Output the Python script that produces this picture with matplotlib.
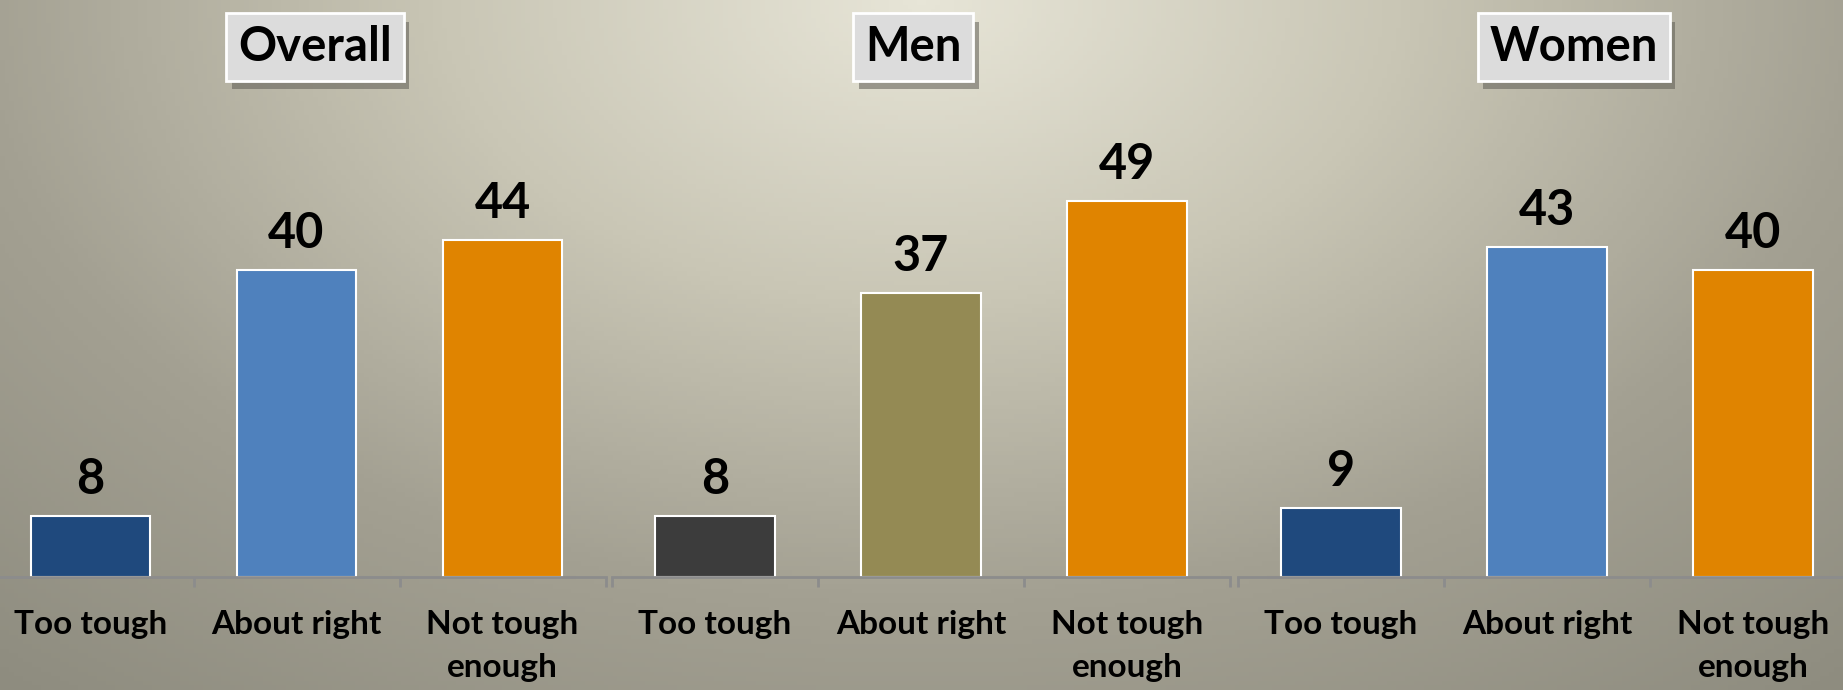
import numpy as np
import matplotlib
matplotlib.use("Agg")
import matplotlib.pyplot as plt
import matplotlib.patheffects as pe
from matplotlib.colors import LinearSegmentedColormap

plt.rcParams['font.family'] = ['Lato', 'DejaVu Sans']
plt.rcParams['font.weight'] = 'bold'

# data
categories = ['Too tough', 'About right', 'Not tough\nenough']
groups = ['Overall', 'Men', 'Women']
overall = [8, 40, 44]
men = [8, 37, 49]
women = [9, 43, 40]
values = [overall, men, women]
colors = [
    ['#1f497d', '#4f81bd', '#e08400'],
    ['#3c3c3c', '#948a54', '#e08400'],
    ['#1f497d', '#4f81bd', '#e08400'],
]

W, H = 1843, 690
fig = plt.figure(figsize=(W / 100, H / 100), dpi=100)

# background: soft radial gradient, light at top centre
bg = fig.add_axes([0, 0, 1, 1])
xx, yy = np.meshgrid(np.linspace(0, 1, 400), np.linspace(0, 1, 150))
d = np.sqrt(((xx - 0.5) / 0.62) ** 2 + (yy / 1.05) ** 2)
cmap = LinearSegmentedColormap.from_list('bg', ['#e7e5d7', '#c9c6b5', '#a3a092', '#8e8c7f'])
bg.imshow(d, cmap=cmap, vmin=0, vmax=1.25, aspect='auto', extent=[0, 1, 0, 1], origin='upper')
bg.set_axis_off()

# panel positions (figure fraction)
lefts = [-12.5, 612, 1238]
pw = 618
base = (H - 577) / H
ymax = 60
ah = ymax * 7.67 / H

title_x = [268 * 1.1754, 777 * 1.1754, 1339 * 1.1754]
title_y = 40 * 1.1754

shadow = [pe.SimplePatchShadow(offset=(4, -6), shadow_rgbFace='#5f5d55', alpha=0.55), pe.Normal()]

x = np.arange(3)
for i in range(3):
    ax = fig.add_axes([lefts[i] / W, base, pw / W, ah])
    ax.patch.set_alpha(0)
    ax.bar(x, values[i], width=0.58, color=colors[i], edgecolor='white', linewidth=1.5)
    for xi, v in zip(x, values[i]):
        ax.annotate(str(v), (xi, v), xytext=(0, 10), textcoords='offset points',
                    ha='center', va='bottom', fontsize=35, fontweight='bold')
    ax.set_xlim(-0.5, 2.5)
    ax.set_ylim(0, ymax)
    for s in ['top', 'left', 'right']:
        ax.spines[s].set_visible(False)
    ax.spines['bottom'].set_color('#8c8c8c')
    ax.spines['bottom'].set_linewidth(2)
    ax.set_yticks([])
    ax.set_xticks(x)
    ax.set_xticklabels(categories, fontsize=24, fontweight='bold', linespacing=1.55)
    ax.tick_params(axis='x', which='major', length=0, pad=24)
    ax.set_xticks([-0.5, 0.5, 1.5, 2.5], minor=True)
    ax.tick_params(axis='x', which='minor', length=7, width=2, color='#8c8c8c')

    # title box with drop shadow
    tx, ty = title_x[i] / W, 1 - title_y / H
    t = fig.text(tx, ty, groups[i], ha='center', va='center', fontsize=34, fontweight='bold',
                 bbox=dict(boxstyle='square,pad=0.25', facecolor='#dcdcdc', edgecolor='white', linewidth=2))
    t.get_bbox_patch().set_path_effects(shadow)

fig.savefig('out.png', dpi=100)
